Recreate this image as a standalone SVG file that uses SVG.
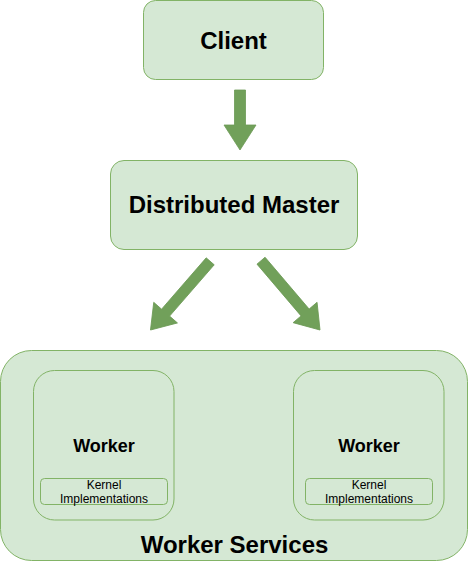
<svg xmlns="http://www.w3.org/2000/svg" width="468" height="561" viewBox="0 0 468 561">
<style>
.box{fill:#d5e8d4;stroke:#82b366;stroke-width:1}
.arrow{fill:#71a05a;stroke:#6c9a55;stroke-width:0.8}
.t{font-family:"Liberation Sans",Arial,sans-serif;fill:#000;text-anchor:middle}
.big{font-size:24px;font-weight:bold}
.mid{font-size:18px;font-weight:bold}
.small{font-size:12px}
</style>
<rect width="468" height="561" fill="#ffffff"/>
<g id="client">
<rect class="box" x="143.5" y="0.5" width="180" height="79" rx="12"/>
<text class="t big" x="233.5" y="49">Client</text>
</g>
<g id="master">
<rect class="box" x="110.5" y="160.5" width="247" height="89" rx="13.5"/>
<text class="t big" x="234" y="213">Distributed Master</text>
</g>
<g id="worker-services">
<rect class="box" x="0.5" y="350.5" width="467" height="210" rx="31"/>
<text class="t big" x="234.5" y="553">Worker Services</text>
</g>
<g id="worker-left">
<rect class="box" x="33.5" y="370.5" width="140.5" height="149.5" rx="21"/>
<text class="t mid" x="104" y="451.5">Worker</text>
</g>
<g id="kernel-left">
<rect class="box" x="40.5" y="478.5" width="127" height="26" rx="4"/>
<text class="t small" x="104" y="488.5">Kernel</text>
<text class="t small" x="104" y="502.5">Implementations</text>
</g>
<g id="worker-right">
<rect class="box" x="293.5" y="370.5" width="150.5" height="149.5" rx="21"/>
<text class="t mid" x="369" y="451.5">Worker</text>
</g>
<g id="kernel-right">
<rect class="box" x="305.5" y="478.5" width="127" height="26" rx="4"/>
<text class="t small" x="369" y="488.5">Kernel</text>
<text class="t small" x="369" y="502.5">Implementations</text>
</g>
<g id="connectors">
<path class="arrow" transform="translate(240,150)" d="M -5.5,-60 L 5.5,-60 L 5.5,-25 L 16,-25 L 0,0 L -16,-25 L -5.5,-25 Z"/>
<path class="arrow" transform="translate(150.5,330) rotate(41)" d="M -5.3,-91 L 5.3,-91 L 5.3,-23 L 15.7,-23 L 0,0 L -15.7,-23 L -5.3,-23 Z"/>
<path class="arrow" transform="translate(320,330) rotate(-40.4)" d="M -5.3,-91 L 5.3,-91 L 5.3,-23 L 15.7,-23 L 0,0 L -15.7,-23 L -5.3,-23 Z"/>
</g>
</svg>
